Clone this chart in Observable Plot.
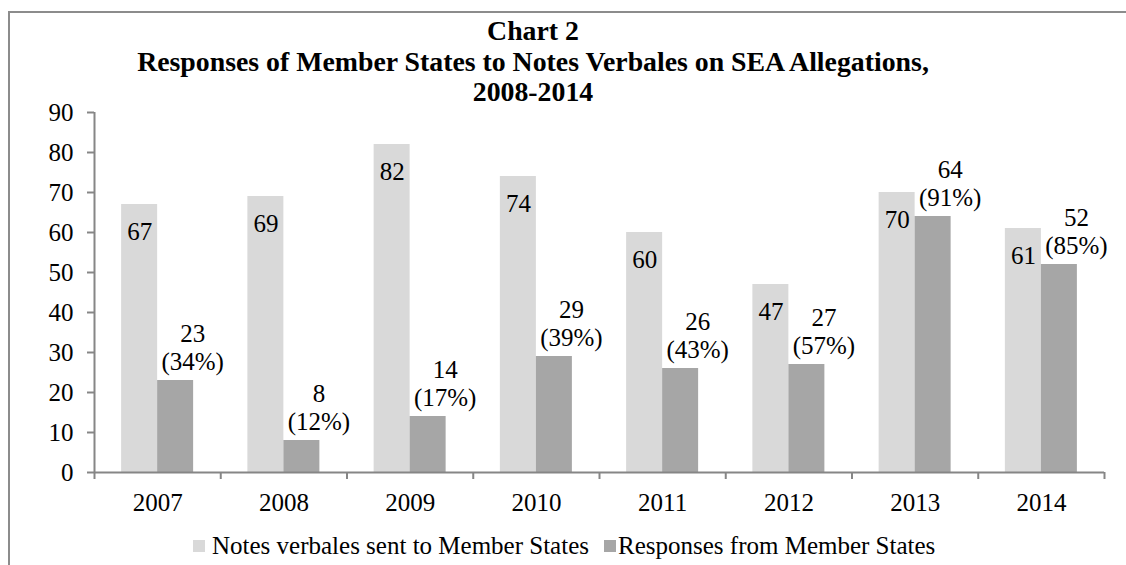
<!DOCTYPE html>
<html>
<head>
<meta charset="utf-8">
<script src="https://cdn.jsdelivr.net/npm/d3@7"></script>
<script src="https://cdn.jsdelivr.net/npm/@observablehq/plot@0.6"></script>
<style>
  html, body { margin: 0; padding: 0; background: #fff; }
  body { width: 1126px; height: 565px; position: relative; overflow: hidden; font-family: "Liberation Serif", "DejaVu Serif", serif; }
  #frame { position: absolute; left: 8px; top: 11px; width: 1200px; height: 700px; border-left: 2px solid #8c8c8c; border-top: 2px solid #8c8c8c; box-sizing: border-box; }
  #chart { position: absolute; left: 0; top: 0; }
  #title { position: absolute; left: 0; top: 16px; width: 1066px; text-align: center; font-weight: bold; font-size: 27.8px; line-height: 30.5px; color: #000; }
  #legend { position: absolute; left: 193px; top: 532px; display: flex; align-items: center; font-weight: 400; font-size: 25px; line-height: 28px; color: #000; white-space: nowrap; }
  .sw { display: inline-block; width: 12px; height: 12px; margin-right: 7px; }
  .item { display: flex; align-items: center; }
</style>
</head>
<body>
<div id="frame"></div>
<div id="chart"></div>
<div id="title">Chart 2<br>Responses of Member States to Notes Verbales on SEA Allegations,<br>2008-2014</div>
<div id="legend"></div>
<script>
const years = [2007, 2008, 2009, 2010, 2011, 2012, 2013, 2014];
const notesSent = [67, 69, 82, 74, 60, 47, 70, 61];
const responses = [23, 8, 14, 29, 26, 27, 64, 52];
const responsePct = [34, 12, 17, 39, 43, 57, 91, 85];
const yTicks = [0, 10, 20, 30, 40, 50, 60, 70, 80, 90];
const seriesNames = ["Notes verbales sent to Member States", "Responses from Member States"];
const colors = ["#d9d9d9", "#a6a6a6"];

const axisGray = "#868686";
const bw = 36 / 126.25; // bar width in year units
const xDomain = [years[0] - 0.5, years[years.length - 1] + 0.5];
const boundaries = [...years.map(y => y - 0.5), years[years.length - 1] + 0.5];

const sent = years.map((y, i) => ({year: y, value: notesSent[i]}));
const resp = years.map((y, i) => ({year: y, value: responses[i], pct: responsePct[i]}));

const serif = "'Liberation Serif', 'DejaVu Serif', serif";
const fs = 25;

const plot = Plot.plot({
  width: 1126,
  height: 565,
  marginLeft: 94,
  marginRight: 22,
  marginTop: 112,
  marginBottom: 93,
  style: {fontFamily: serif, fontSize: fs + "px", color: "#000", background: "transparent"},
  x: {domain: xDomain},
  y: {domain: [0, 90]},
  marks: [
    Plot.rectY(sent, {x1: d => d.year - bw, x2: d => d.year, y1: 0, y2: "value", fill: colors[0]}),
    Plot.rectY(resp, {x1: d => d.year, x2: d => d.year + bw, y1: 0, y2: "value", fill: colors[1]}),
    Plot.ruleY([0], {stroke: axisGray, strokeWidth: 2}),
    Plot.ruleX([xDomain[0]], {y1: 0, y2: 90, stroke: axisGray, strokeWidth: 2}),
    Plot.axisY({ticks: yTicks, tickSize: 7, tickPadding: 14, stroke: axisGray, strokeWidth: 2, fill: "#000", fontSize: fs, fontFamily: serif, label: null}),
    Plot.axisX({ticks: boundaries, tickSize: 7, tickFormat: () => "", stroke: axisGray, strokeWidth: 2, label: null}),
    Plot.axisX({ticks: years, tickSize: 0, tickPadding: 21, tickFormat: d => String(d), fill: "#000", fontSize: fs, fontFamily: serif, label: null}),
    Plot.text(sent, {x: d => d.year - bw / 2, y: "value", text: d => String(d.value), dy: 35, lineAnchor: "bottom", fill: "#000", fontSize: fs, fontFamily: serif}),
    Plot.text(resp, {x: d => d.year + bw / 2, y: "value", text: d => `${d.value}\n(${d.pct}%)`, dx: 17, dy: -11, lineAnchor: "bottom", lineHeight: 28 / fs, fill: "#000", fontSize: fs, fontFamily: serif})
  ]
});
document.getElementById("chart").appendChild(plot);

const legend = document.getElementById("legend");
seriesNames.forEach((name, i) => {
  const item = document.createElement("span");
  item.className = "item";
  if (i > 0) item.style.marginLeft = "15px";
  const sw = document.createElement("span");
  sw.className = "sw";
  sw.style.background = colors[i];
  if (i > 0) sw.style.marginRight = "2px";
  const t = document.createElement("span");
  t.textContent = name;
  item.appendChild(sw);
  item.appendChild(t);
  legend.appendChild(item);
});
</script>
</body>
</html>
